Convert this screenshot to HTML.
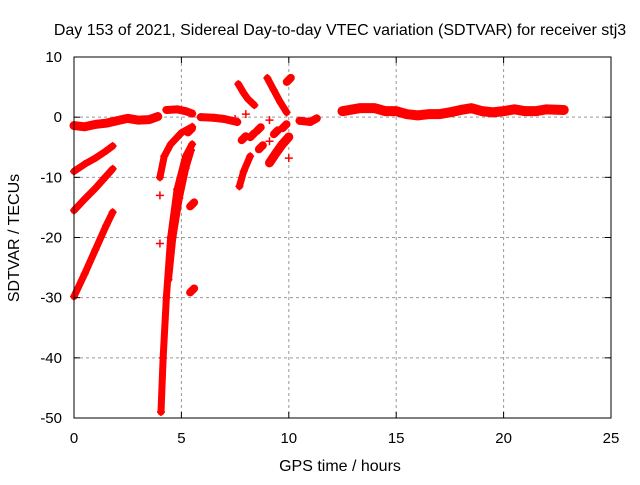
<!DOCTYPE html>
<html><head><meta charset="utf-8"><style>
body{margin:0;background:#fff}
svg text{font-family:"Liberation Sans",sans-serif;font-size:15px;fill:#000}
svg text.t{font-size:16px}
</style></head><body>
<svg id="chart" width="640" height="480" xmlns="http://www.w3.org/2000/svg">
<rect width="640" height="480" fill="#fff"/>
<text class="t" x="340" y="35" text-anchor="middle">Day 153 of 2021, Sidereal Day-to-day VTEC variation (SDTVAR) for receiver stj3</text>
<text class="t" x="340" y="471" text-anchor="middle">GPS time / hours</text>
<text class="t" transform="translate(19,238) rotate(-90)" text-anchor="middle">SDTVAR / TECUs</text>
<g id="grid"></g><g id="marks"></g>
<rect x="74" y="57" width="537" height="361" fill="none" stroke="#000" stroke-width="1"/>
<g id="ticks"></g>
</svg>
<script>
const xTicks=[0,5,10,15,20,25];
const yTicks=[10,0,-10,-20,-30,-40,-50];
// each series: hours and SDTVAR values
const segBaseH=[0,0.5,1,1.5,2,2.5,3,3.5,3.9];
const segBaseV=[-1.4,-1.6,-1.2,-1.0,-0.6,-0.2,-0.5,-0.4,0.1];
const segB_H=[0,0.5,1,1.5,1.8];const segB_V=[-9,-7.8,-6.8,-5.6,-4.8];
const segC_H=[0,0.5,1,1.5,1.8];const segC_V=[-15.5,-13.6,-11.8,-9.8,-8.6];
const segD_H=[0,0.5,1,1.5,1.8];const segD_V=[-29.8,-26,-22,-18,-15.8];
const segE_H=[4.3,4.8,5.2,5.5];const segE_V=[1.2,1.3,1.0,0.6];
const segFlatH=[5.9,6.5,7.0,7.6];const segFlatV=[0,-0.1,-0.3,-0.8];
const segF_H=[4.0,4.2,4.5,5.0,5.5];const segF_V=[-10,-6.5,-4.5,-2.6,-1.6];
const segG_H=[4.05,4.15,4.3,4.5,4.8,5.2,5.5];const segG_V=[-49,-40,-30,-20,-12,-6.5,-4.5];
const segH_H=[4.4,4.6,4.9,5.2,5.45];const segH_V=[-27,-20,-13.5,-8.5,-5.5];
const segI_H=[7.65,7.9,8.1,8.4];const segI_V=[5.5,4,3,2];
const segJ_H=[9.0,9.3,9.6,9.9];const segJ_V=[6.5,4.5,2.5,0.8];
const segK_H=[7.7,7.9,8.2];const segK_V=[-11.5,-9,-6.5];
const segL_H=[9.1,9.4,9.7,10.0];const segL_V=[-7.6,-6,-4.5,-3.3];
const segM_H=[10.5,11,11.3];const segM_V=[-0.6,-0.8,-0.2];
const segR_H=[12.5,13.3,14,14.5,15,15.5,16,16.5,17,17.5,18,18.5,19,19.5,20,20.5,21,21.5,22,22.8];
const segR_V=[1,1.5,1.5,1,1,0.5,0.3,0.5,0.5,0.8,1.2,1.5,1,0.8,1,1.3,1,1,1.3,1.2];
const blobH=[10.0,7.9,8.3,8.7,8.6,9.4,9.8,5.5,5.5,5.4];
const blobV=[6.2,-3.5,-3,-5,-2,-2.5,-1.5,-14.5,-28.8,-2.2];
const dotsH=[4.0,4.0,8.0,9.1,7.5,10.0,9.1];
const dotsV=[-13,-21,0.5,-4,-0.3,-6.8,-0.5];
const series=[[segBaseH,segBaseV,9],[segB_H,segB_V,7],[segC_H,segC_V,7],[segD_H,segD_V,7],[segE_H,segE_V,8],[segFlatH,segFlatV,8],[segF_H,segF_V,7],[segG_H,segG_V,7],[segH_H,segH_V,7],[segI_H,segI_V,7],[segJ_H,segJ_V,7],[segK_H,segK_V,7],[segL_H,segL_V,9],[segM_H,segM_V,8],[segR_H,segR_V,10]];
const X=h=>74+h*537/25, Y=v=>57+(10-v)*361/60;
const NS="http://www.w3.org/2000/svg";
const grid=document.getElementById('grid'),ticks=document.getElementById('ticks'),marks=document.getElementById('marks');
function mk(tag,attrs,parent){const e=document.createElementNS(NS,tag);for(const k in attrs)e.setAttribute(k,attrs[k]);parent.appendChild(e);return e;}
xTicks.forEach(t=>{const x=X(t);
 if(t>0&&t<25){const g=mk('line',{x1:x,x2:x,y1:57,y2:418,stroke:'#999','stroke-dasharray':'3,3'},grid);
 
 }
 mk('line',{x1:x,x2:x,y1:418,y2:412,stroke:'#000'},ticks);mk('line',{x1:x,x2:x,y1:57,y2:63,stroke:'#000'},ticks);
 const l=mk('text',{x:x,y:443,'text-anchor':'middle'},ticks);l.textContent=t;
 
 });
yTicks.forEach(t=>{const y=Y(t);
 if(t<10&&t>-50){const g=mk('line',{x1:74,x2:611,y1:y,y2:y,stroke:'#999','stroke-dasharray':'3,3'},grid);
 
 }
 mk('line',{x1:74,x2:80,y1:y,y2:y,stroke:'#000'},ticks);mk('line',{x1:611,x2:605,y1:y,y2:y,stroke:'#000'},ticks);
 const l=mk('text',{x:62,y:y+5,'text-anchor':'end'},ticks);l.textContent=t;
 
 });
function plus(h,v){const x=X(h),y=Y(v);
 const p=mk('path',{d:`M${x-4},${y}H${x+4}M${x},${y-4}V${y+4}`,stroke:'#f00','stroke-width':1.5},marks);
 
 }
series.forEach(([hs,vs,w])=>{
 const pl=mk('polyline',{points:hs.map((h,i)=>X(h)+','+Y(vs[i])).join(' '),fill:'none',stroke:'#f00','stroke-width':w,'stroke-linejoin':'round','stroke-linecap':'round'},marks);
 
 
 hs.forEach((h,i)=>plus(h,vs[i]));});
blobH.forEach((h,i)=>{const x=X(h),y=Y(blobV[i]);
 const b=mk('line',{x1:x-2,y1:y+2,x2:x+2,y2:y-2,stroke:'#f00','stroke-width':8,'stroke-linecap':'round'},marks);
 
 });
dotsH.forEach((h,i)=>plus(h,dotsV[i]));
</script>
</body></html>
